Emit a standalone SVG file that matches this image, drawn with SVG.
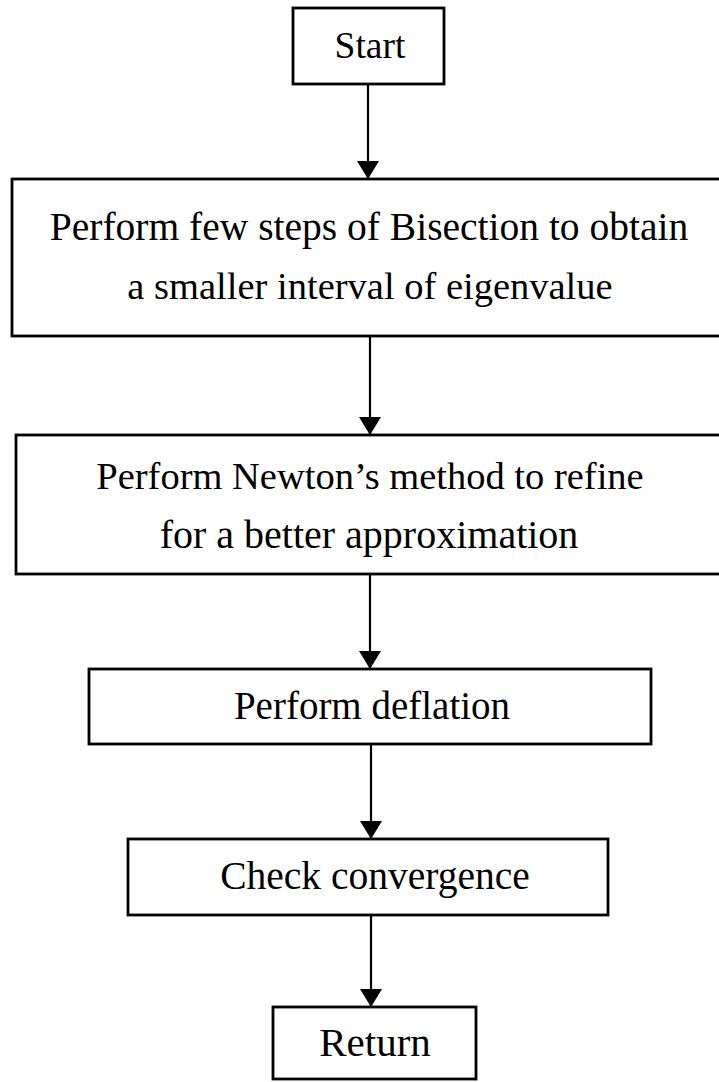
<svg xmlns="http://www.w3.org/2000/svg" width="719" height="1082" viewBox="0 0 719 1082">
  <style>
    .box { fill: #fff; stroke: #000; stroke-width: 2.8; }
    .lbl { font-family: "Liberation Serif", "Times New Roman", serif; font-size: 39px; fill: #000; text-anchor: middle; }
    .edge { stroke: #000; stroke-width: 2.2; fill: none; marker-end: url(#arrow); }
  </style>
  <defs>
    <!-- filled triangular arrowhead, 18 long and 22 wide -->
    <marker id="arrow" viewBox="0 0 18 22" refX="18" refY="11" markerWidth="18" markerHeight="22" markerUnits="userSpaceOnUse" orient="auto">
      <path d="M0,0 L18,11 L0,22 Z" fill="#000"/>
    </marker>
  </defs>

  <g id="edges">
    <line class="edge" x1="368" y1="84" x2="368" y2="179"/>
    <line class="edge" x1="370" y1="336" x2="370" y2="435"/>
    <line class="edge" x1="370" y1="574" x2="370" y2="669"/>
    <line class="edge" x1="371" y1="744" x2="371" y2="839"/>
    <line class="edge" x1="371" y1="915" x2="371" y2="1007"/>
  </g>

  <g id="start">
    <rect class="box" x="293" y="8" width="151" height="76"/>
    <text class="lbl" x="370" y="58" style="font-size:37.5px">Start</text>
  </g>

  <g id="bisection">
    <rect class="box" x="12" y="179" width="720" height="157"/>
    <text class="lbl" x="369" y="240" style="font-size:39.5px">Perform few steps of Bisection to obtain</text>
    <text class="lbl" x="370" y="299" style="font-size:38.5px">a smaller interval of eigenvalue</text>
  </g>

  <g id="newton">
    <rect class="box" x="16" y="435" width="716" height="139"/>
    <text class="lbl" x="370" y="489" style="font-size:38.5px">Perform Newton’s method to refine</text>
    <text class="lbl" x="369" y="548" style="font-size:40px">for a better approximation</text>
  </g>

  <g id="deflation">
    <rect class="box" x="89" y="669" width="562" height="75"/>
    <text class="lbl" x="372" y="719" style="font-size:39px">Perform deflation</text>
  </g>

  <g id="convergence">
    <rect class="box" x="128" y="839" width="480" height="76"/>
    <text class="lbl" x="375" y="889" style="font-size:39.5px">Check convergence</text>
  </g>

  <g id="return">
    <rect class="box" x="273" y="1007" width="203" height="72"/>
    <text class="lbl" x="375" y="1056" style="font-size:41px">Return</text>
  </g>
</svg>
